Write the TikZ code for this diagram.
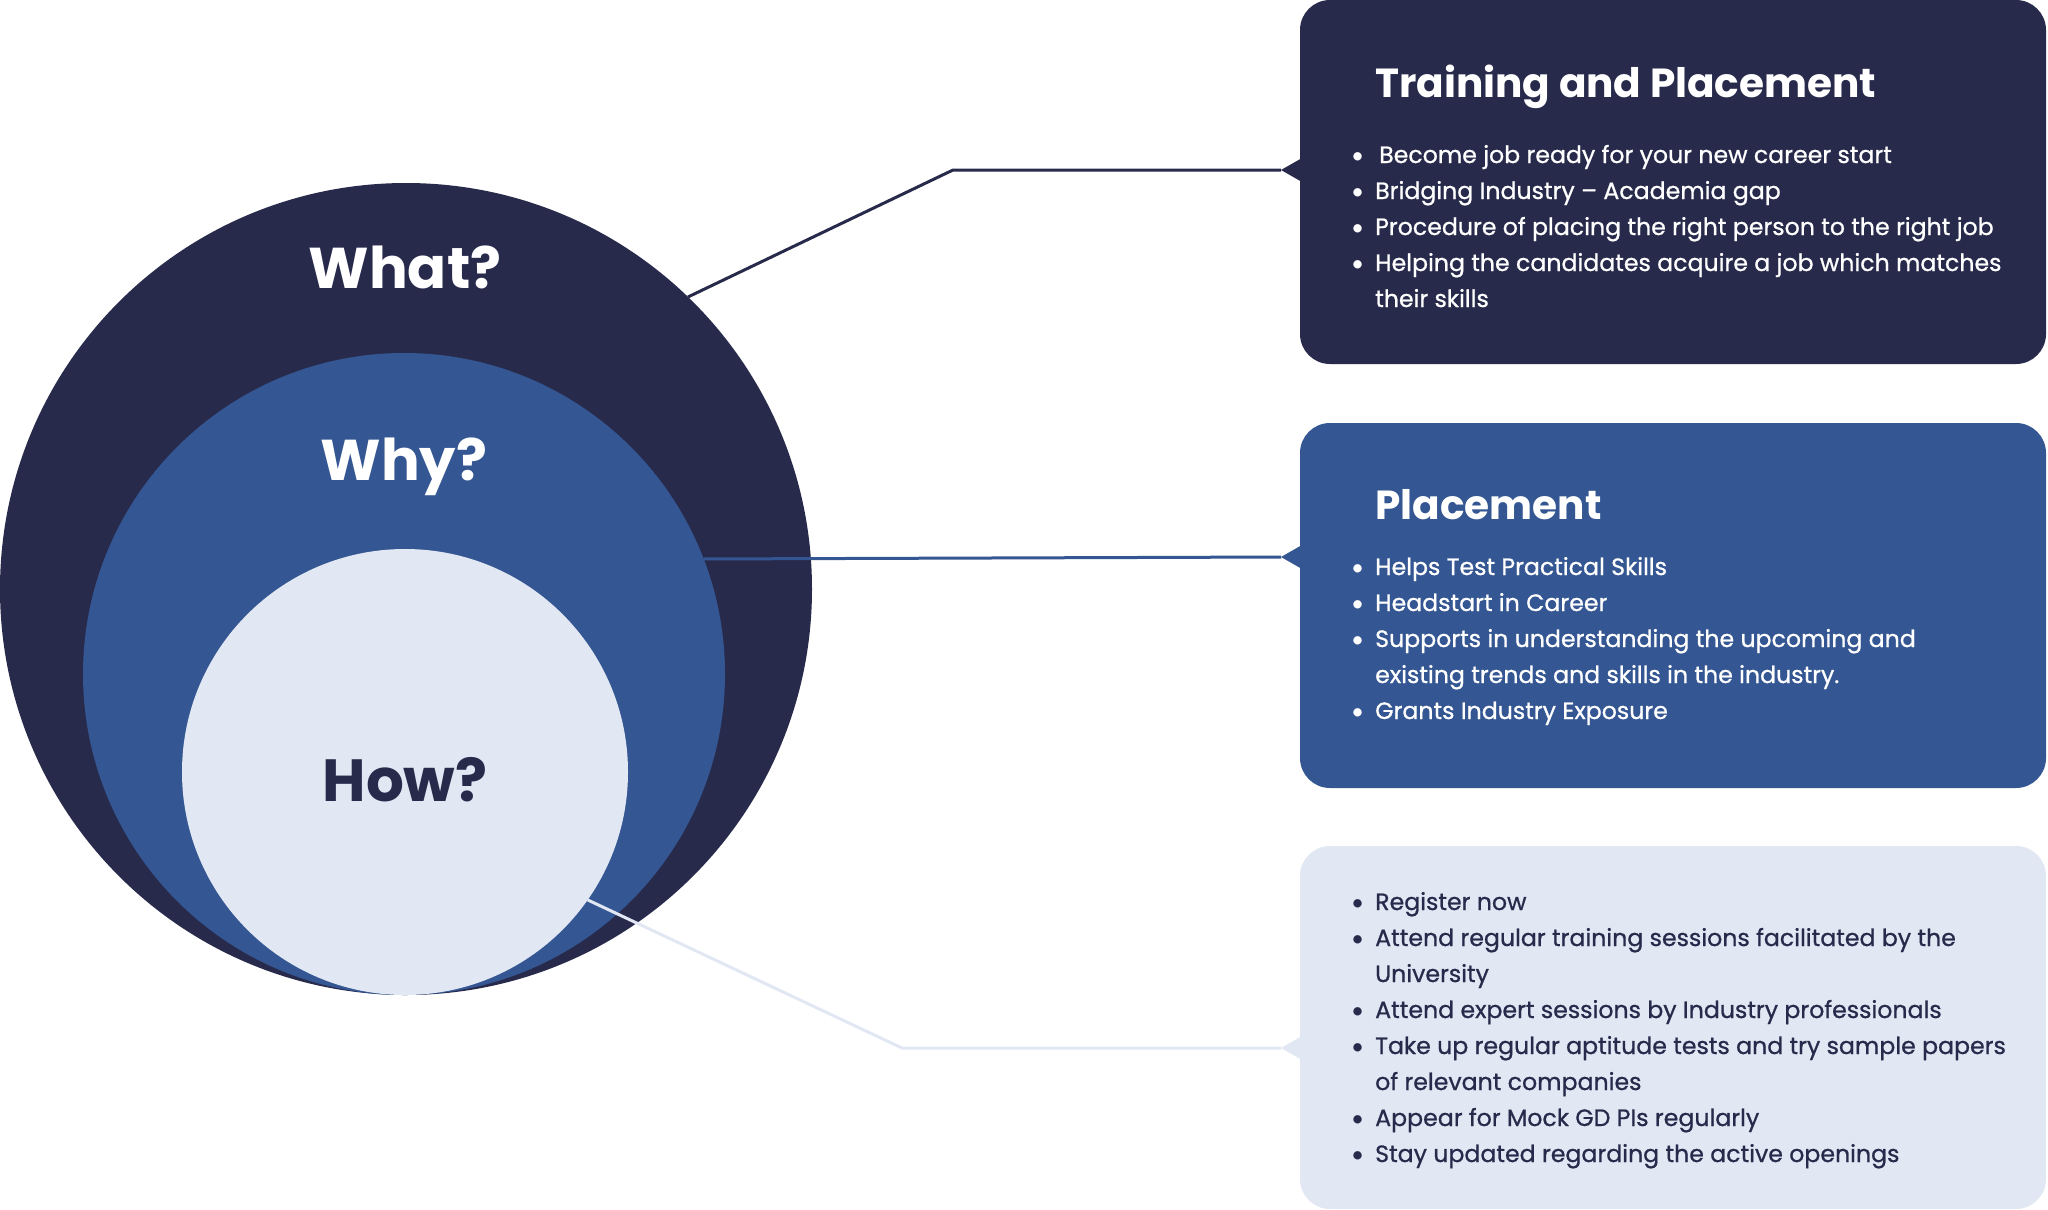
\documentclass[tikz,border=0pt]{standalone}
\usepackage{fontspec}
\setmainfont{Poppins}
\newfontfamily\bodyfam[FakeBold=0.8]{Poppins}
\newfontfamily\latof{Lato}
\definecolor{navy}{HTML}{272A4B}
\definecolor{mblue}{HTML}{345692}
\definecolor{pale}{HTML}{E1E7F3}
\newcommand\bodyfnt{\bodyfam\fontsize{23.65}{27}\selectfont}
\newcommand\titlefnt{\fontsize{40.6}{50}\selectfont\bfseries}
\newcommand\ringfnt{\fontsize{57.5}{70}\selectfont\bfseries}
\newcommand\mybul{\makebox[24pt][l]{\latof\fontsize{22.5}{27}\selectfont •}}
\begin{document}
\begin{tikzpicture}[x=1pt,y=-1pt,
  ring/.style={circle, inner sep=0pt, outer sep=0pt},
  card/.style={rounded corners=30pt, inner sep=0pt, outer sep=0pt, minimum width=746pt, anchor=north west},
  ringlbl/.style={anchor=base, font=\ringfnt, inner sep=0pt},
  ttl/.style={anchor=base west, font=\titlefnt, inner sep=0pt},
  ln/.style={anchor=base west, font=\bodyfnt, inner sep=0pt},
  conn/.style={line width=3pt, line join=miter}]
\useasboundingbox (0,0) rectangle (2048,1210);
% circles
\node[ring, fill=navy, minimum size=812pt] (outer) at (406,589) {};
\node[ring, fill=mblue, minimum size=642pt] (middle) at (404,674) {};
\node[ring, fill=pale, minimum size=446pt] (inner) at (405,772) {};
\node[ringlbl, text=white] (what) at (405,288) {What?};
\node[ringlbl, text=white] (why) at (404,480) {Why?};
\node[ringlbl, text=navy, font=\fontsize{59.5}{70}\selectfont\bfseries] (how) at (405,801) {How?};
% cards
\node[card, fill=navy, minimum height=364pt] (box1) at (1300,0) {};
\node[card, fill=mblue, minimum height=365pt] (box2) at (1300,423) {};
\node[card, fill=pale, minimum height=363pt] (box3) at (1300,846) {};
\fill[navy] (1302,158) -- (1281,170) -- (1302,182) -- cycle;
\fill[mblue] (1302,545) -- (1281,557) -- (1302,569) -- cycle;
\fill[pale] (1302,1036) -- (1281,1048) -- (1302,1060) -- cycle;
\coordinate (tip1) at (1281,170);
\coordinate (tip2) at (1281,557);
\coordinate (tip3) at (1281,1048);
\coordinate (j1) at (953,170);
\coordinate (j3) at (902,1048);
% connectors
\draw[conn, navy] (outer.46.8) -- (j1) -- (tip1);
\draw[conn, mblue] (middle.21.4) -- (tip2);
\draw[conn, pale] (inner.-35.2) -- (j3) -- (tip3);
% box 1 text
\node[ttl, text=white] (t1) at (1375,97) {Training and Placement};
\begin{scope}[every node/.style={text=white}]
\node[ln] (a1) at (1351,163) {\mybul\hspace{4pt}Become job ready for your new career start};
\node[ln] (a2) at (1351,199) {\mybul Bridging Industry – Academia gap};
\node[ln] (a3) at (1351,235) {\mybul Procedure of placing the right person to the right job};
\node[ln] (a4) at (1351,271) {\mybul Helping the candidates acquire a job which matches};
\node[ln] (a5) at (1375,307) {their skills};
% box 2 text
\node[ttl] (t2) at (1375,519) {Placement};
\node[ln] (c1) at (1351,575) {\mybul Helps Test Practical Skills};
\node[ln] (c2) at (1351,611) {\mybul Headstart in Career};
\node[ln] (c3) at (1351,647) {\mybul Supports in understanding the upcoming and};
\node[ln] (c4) at (1375,683) {existing trends and skills in the industry.};
\node[ln] (c5) at (1351,719) {\mybul Grants Industry Exposure};
\end{scope}
% box 3 text
\begin{scope}[every node/.style={text=navy}]
\node[ln] (d1) at (1351,910) {\mybul Register now};
\node[ln] (d2) at (1351,946) {\mybul Attend regular training sessions facilitated by the};
\node[ln] (d3) at (1375,982) {University};
\node[ln] (d4) at (1351,1018) {\mybul Attend expert sessions by Industry professionals};
\node[ln] (d5) at (1351,1054) {\mybul Take up regular aptitude tests and try sample papers};
\node[ln] (d6) at (1375,1090) {of relevant companies};
\node[ln] (d7) at (1351,1126) {\mybul Appear for Mock GD PIs regularly};
\node[ln] (d8) at (1351,1162) {\mybul Stay updated regarding the active openings};
\end{scope}
\end{tikzpicture}
\end{document}
